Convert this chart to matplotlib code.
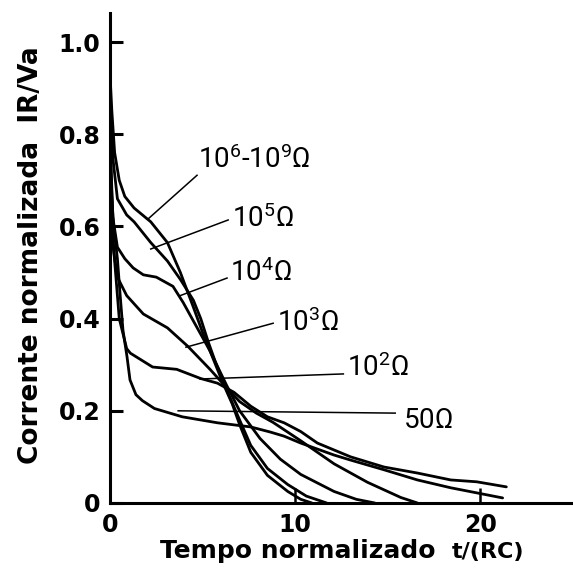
import matplotlib
matplotlib.use("Agg")
import matplotlib.pyplot as plt

# Curvas de descarga normalizadas: tempo t/(RC) e corrente IR/Va
t_1e6 = [0, 0.1, 0.25, 0.5, 0.8, 1.3, 2.2, 3.1, 3.8, 4.5, 5.0, 5.6, 6.1, 6.6, 7.0, 7.6, 8.5, 9.6, 10.3, 10.9]
i_1e6 = [0.93, 0.85, 0.76, 0.70, 0.665, 0.64, 0.61, 0.565, 0.50, 0.425, 0.37, 0.31, 0.26, 0.215, 0.17, 0.11, 0.06, 0.025, 0.008, 0.0]

t_1e5 = [0, 0.15, 0.4, 0.9, 1.3, 2.2, 3.1, 3.8, 4.5, 4.9, 5.3, 5.7, 6.2, 7.0, 7.6, 8.5, 9.6, 10.6, 11.7]
i_1e5 = [0.88, 0.75, 0.66, 0.625, 0.61, 0.565, 0.525, 0.485, 0.44, 0.40, 0.35, 0.305, 0.255, 0.18, 0.125, 0.075, 0.04, 0.015, 0.0]

t_1e4 = [0, 0.15, 0.4, 0.8, 1.25, 1.8, 2.5, 3.4, 3.95, 4.5, 5.4, 6.3, 7.0, 8.1, 9.2, 10.3, 12.1, 13.3, 14.3]
i_1e4 = [0.80, 0.62, 0.555, 0.53, 0.51, 0.495, 0.49, 0.47, 0.435, 0.395, 0.33, 0.255, 0.20, 0.14, 0.095, 0.062, 0.025, 0.008, 0.0]

t_1e3 = [0, 0.15, 0.4, 0.9, 1.8, 3.1, 4.2, 5.4, 6.3, 7.0, 7.9, 8.8, 10.3, 12.1, 13.9, 15.7, 16.6]
i_1e3 = [0.75, 0.56, 0.49, 0.45, 0.41, 0.38, 0.34, 0.29, 0.25, 0.22, 0.195, 0.175, 0.135, 0.085, 0.045, 0.012, 0.0]

t_1e2 = [0, 0.2, 0.5, 0.9, 1.1, 2.3, 3.6, 4.9, 5.8, 6.7, 7.6, 8.5, 9.4, 10.3, 11.2, 13.0, 14.8, 16.6, 18.4, 19.8, 21.4]
i_1e2 = [0.78, 0.55, 0.40, 0.335, 0.325, 0.295, 0.29, 0.27, 0.26, 0.24, 0.21, 0.187, 0.174, 0.155, 0.13, 0.10, 0.078, 0.065, 0.05, 0.046, 0.035]

t_50 = [0, 0.2, 0.4, 0.55, 0.7, 0.92, 1.08, 1.4, 1.75, 2.4, 3.9, 5.8, 7.6, 8.65, 9.4, 10.3, 11.2, 12.1, 13.0, 14.8, 16.6, 18.4, 19.8, 21.2]
i_50 = [0.72, 0.60, 0.53, 0.45, 0.375, 0.317, 0.267, 0.235, 0.222, 0.205, 0.187, 0.174, 0.165, 0.154, 0.145, 0.13, 0.117, 0.104, 0.093, 0.072, 0.05, 0.033, 0.022, 0.011]

# rótulos: texto, linha de chamada (da curva até o texto) e posição do texto
rotulos = [r"$10^{6}$-$10^{9}\Omega$", r"$10^{5}\Omega$", r"$10^{4}\Omega$",
           r"$10^{3}\Omega$", r"$10^{2}\Omega$", r"$50\Omega$"]
ponta = [(2.05, 0.616), (2.2, 0.551), (3.73, 0.449), (4.1, 0.338), (4.86, 0.269), (3.68, 0.20)]
fim_linha = [(4.70, 0.711), (6.38, 0.614), (6.32, 0.488), (8.81, 0.39), (12.6, 0.28), (15.4, 0.195)]
texto_xy = [(4.75, 0.744), (6.6, 0.616), (6.49, 0.499), (9.03, 0.39), (12.8, 0.293), (15.84, 0.178)]

plt.rcParams["mathtext.fontset"] = "custom"
plt.rcParams["mathtext.rm"] = "Roboto"
plt.rcParams["mathtext.it"] = "Roboto"
plt.rcParams["mathtext.bf"] = "Roboto"

fig = plt.figure(figsize=(5.73, 5.69), dpi=100)
ax = fig.add_axes([110 / 573, 66 / 569, 463 / 573, 490 / 569])

for t, i in [(t_1e6, i_1e6), (t_1e5, i_1e5), (t_1e4, i_1e4),
             (t_1e3, i_1e3), (t_1e2, i_1e2), (t_50, i_50)]:
    ax.plot(t, i, color="black", lw=2.0, solid_joinstyle="round", solid_capstyle="round")

for txt, (x0, y0), (x1, y1), (xt, yt) in zip(rotulos, ponta, fim_linha, texto_xy):
    ax.plot([x0, x1], [y0, y1], color="black", lw=1.1)
    ax.text(xt, yt, txt, fontsize=20, family="Roboto", color="black",
            ha="left", va="center")

ax.set_xlim(0, 25.0)
ax.set_ylim(0, 1.063)
ax.set_xticks([0, 10, 20])
ax.set_xticklabels(["0", "10", "20"])
ax.set_yticks([0, 0.2, 0.4, 0.6, 0.8, 1.0])
ax.set_yticklabels(["0", "0.2", "0.4", "0.6", "0.8", "1.0"])

for s in ["top", "right"]:
    ax.spines[s].set_visible(False)
for s in ["left", "bottom"]:
    ax.spines[s].set_linewidth(2.2)

ax.tick_params(axis="y", direction="in", length=9, width=2.2, pad=7)
ax.tick_params(axis="x", direction="in", length=11, width=1.8, pad=7)
for lab in ax.get_xticklabels() + ax.get_yticklabels():
    lab.set_fontsize(17)
    lab.set_fontweight("bold")
    lab.set_family("DejaVu Sans")

fig.text(31 / 573, 1 - 255 / 569, "Corrente normalizada  IR/Va", rotation=90,
         fontsize=19, fontweight="bold", ha="center", va="center")
fig.text(298 / 573, 1 - 551 / 569, "Tempo normalizado", fontsize=18,
         fontweight="bold", ha="center", va="center")
fig.text(452 / 573, 1 - 552 / 569, "t/(RC)", fontsize=16,
         fontweight="bold", ha="left", va="center")

fig.savefig("out.png", dpi=100)
